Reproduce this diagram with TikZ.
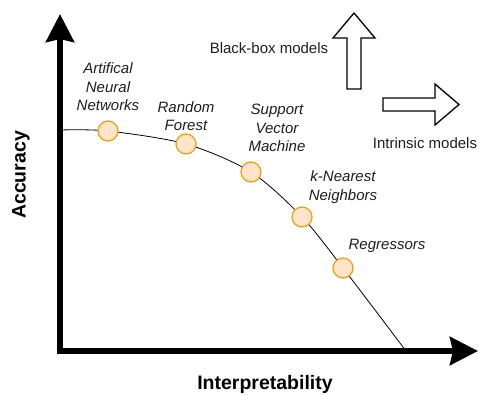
\documentclass[tikz,border=0pt]{standalone}
\usepackage{fontspec}
\setmainfont{Liberation Sans}
\usetikzlibrary{arrows.meta}

\begin{document}
\begin{tikzpicture}[x=1pt,y=-1pt]

\tikzset{model/.style = {shape=circle,draw={rgb,255:red,230;green,163;blue,40},fill={rgb,255:red,255;green,228;blue,200},line width=1.3pt,minimum size=20pt,inner sep=0pt}}
\tikzset{modellabel/.style = {font=\fontsize{15}{18.5}\selectfont\itshape,align=center,text={rgb,255:red,30;green,30;blue,30}}}
\tikzset{axis/.style = {line width=6pt,{Stealth[length=28pt,width=28pt,inset=3pt]}-{Stealth[length=28pt,width=28pt,inset=3pt]}}}
\tikzset{axislabel/.style = {font=\fontsize{19.5}{22}\selectfont\bfseries}}
\tikzset{hint/.style = {font=\fontsize{15}{18}\selectfont,text={rgb,255:red,30;green,30;blue,30}}}
\tikzset{block/.style = {draw,line width=1.3pt,fill=white,line join=miter}}

\useasboundingbox (0,0) rectangle (479,394);

%axes
\coordinate (ytip) at (60,14);
\coordinate (xtip) at (478,351);
\coordinate (start) at (60,130);
\coordinate (stop) at (406,351);
\draw[axis] (ytip) |- (xtip);
\node[axislabel, rotate=90] (acc) at (21,175) {Accuracy};
\node[axislabel] (interp) at (265,384) {Interpretability};

%models
\coordinate (ann) at (108,131);
\coordinate (rf) at (186,144);
\coordinate (svm) at (251,172);
\coordinate (knn) at (302,217);
\coordinate (reg) at (343,268);
\draw[line width=0.8pt] plot[smooth] coordinates {(start) (ann) (rf) (svm) (knn) (reg) (stop)};
\node[model] (n1) at (ann) {};
\node[model] (n2) at (rf) {};
\node[model] (n3) at (svm) {};
\node[model] (n4) at (knn) {};
\node[model] (n5) at (reg) {};

%labels
\node[modellabel] (l1) at (108,87) {Artifical\\Neural\\Networks};
\node[modellabel] (l2) at (186,116) {Random\\Forest};
\node[modellabel] (l3) at (277,128) {Support\\Vector\\Machine};
\node[modellabel] (l4) at (343,187) {k-Nearest\\Neighbors};
\node[modellabel] (l5) at (387,246) {Regressors};

%block arrows
\draw[block] (347,89) -- (361,89) -- (361,38) -- (375,38) -- (354,13) -- (333,38) -- (347,38) -- cycle;
\draw[block] (383,98) -- (435,98) -- (435,84) -- (459,104.5) -- (435,125) -- (435,111) -- (383,111) -- cycle;
\node[hint] (bb) at (269,48) {Black-box models};
\node[hint] (im) at (425,143) {Intrinsic models};

\end{tikzpicture}
\end{document}
